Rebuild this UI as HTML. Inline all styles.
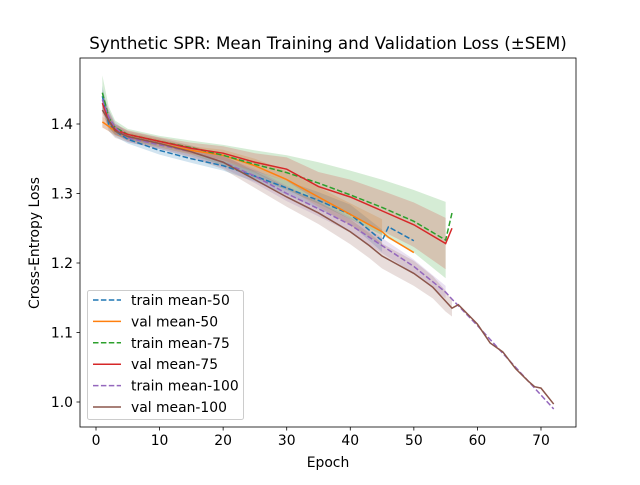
<!DOCTYPE html>
<html><head><meta charset="utf-8"><style>
body{margin:0;background:#fff}
svg{font-family:"DejaVu Sans","Liberation Sans",sans-serif}
</style></head><body>
<svg id="c" width="640" height="480"></svg>
<script>
const epochsTrain50=[1,2,3,5,10,15,20,25,30,35,40,45,46,50];
const valuesTrain50=[1.44,1.40,1.39,1.378,1.362,1.35,1.34,1.325,1.308,1.29,1.27,1.232,1.252,1.232];
const semTrain50=[0.015,0.01,0.008,0.006,0.006,0.006,0.007,0.008,0.01,0.012,0.014,0.016,0.0,0.0];
const epochsVal50=[1,3,5,10,15,20,25,30,35,40,45,46,50];
const valuesVal50=[1.403,1.39,1.382,1.372,1.362,1.355,1.34,1.32,1.295,1.27,1.245,1.237,1.215];
const semVal50=[0.008,0.006,0.006,0.006,0.006,0.008,0.01,0.012,0.014,0.016,0.018,0,0];
const epochsTrain75=[1,2,3,5,10,15,20,25,30,35,40,45,50,55,56];
const valuesTrain75=[1.445,1.41,1.395,1.385,1.375,1.366,1.355,1.342,1.33,1.315,1.298,1.28,1.26,1.233,1.272];
const semTrain75=[0.025,0.015,0.01,0.008,0.008,0.01,0.015,0.02,0.025,0.03,0.035,0.04,0.045,0.055,0.0];
const epochsVal75=[1,2,3,5,10,15,20,25,30,35,40,45,50,55,56];
const valuesVal75=[1.43,1.405,1.392,1.385,1.375,1.365,1.358,1.345,1.335,1.31,1.295,1.275,1.255,1.228,1.25];
const semVal75=[0.015,0.01,0.008,0.006,0.006,0.008,0.01,0.013,0.017,0.021,0.025,0.029,0.032,0.037,0.0];
const epochsTrain100=[1,2,3,5,10,15,20,25,30,35,40,45,50,55,56,60,65,70,72];
const valuesTrain100=[1.435,1.41,1.395,1.38,1.37,1.36,1.345,1.325,1.30,1.278,1.255,1.225,1.195,1.158,1.148,1.11,1.06,1.01,0.99];
const semTrain100=[0.015,0.01,0.008,0.006,0.006,0.007,0.008,0.01,0.011,0.011,0.011,0.011,0.01,0.009,0,0,0,0,0];
const epochsVal100=[1,2,3,5,10,15,20,25,30,35,40,43,45,47,50,53,55,56,57,60,62,64,66,68,69,70,72];
const valuesVal100=[1.42,1.405,1.39,1.382,1.372,1.36,1.345,1.32,1.295,1.272,1.245,1.225,1.21,1.2,1.185,1.165,1.145,1.135,1.14,1.112,1.085,1.072,1.048,1.03,1.022,1.02,0.997];
const semVal100=[0.025,0.015,0.01,0.008,0.008,0.009,0.01,0.012,0.014,0.016,0.018,0.018,0.018,0.018,0.018,0.016,0.015,0.012,0,0,0,0,0,0,0,0,0];
const xTicks=[0,10,20,30,40,50,60,70];
const yTicks=[1.0,1.1,1.2,1.3,1.4];
const legendLabels=["train mean-50","val mean-50","train mean-75","val mean-75","train mean-100","val mean-100"];

const svg=document.getElementById('c');const NS='http://www.w3.org/2000/svg';
function mk(t,a,p){const e=document.createElementNS(NS,t);for(const k in a)e.setAttribute(k,a[k]);(p||svg).appendChild(e);return e;}
const X=e=>96+e*6.357, Y=v=>124+(1.4-v)*695;
const L=80,R=576,T=58,B=427;
const series=[
 {n:'train-50',e:epochsTrain50,v:valuesTrain50,s:semTrain50,c:'#1f77b4',d:true},
 {n:'val-50',e:epochsVal50,v:valuesVal50,s:semVal50,c:'#ff7f0e',d:false},
 {n:'train-75',e:epochsTrain75,v:valuesTrain75,s:semTrain75,c:'#2ca02c',d:true},
 {n:'val-75',e:epochsVal75,v:valuesVal75,s:semVal75,c:'#d62728',d:false},
 {n:'train-100',e:epochsTrain100,v:valuesTrain100,s:semTrain100,c:'#9467bd',d:true},
 {n:'val-100',e:epochsVal100,v:valuesVal100,s:semVal100,c:'#8c564b',d:false}];
const g=mk('g',{'clip-path':'url(#cp)'});
const cp=mk('clipPath',{id:'cp'});mk('rect',{x:L,y:T,width:R-L,height:B-T},cp);
series.forEach(S=>{
 let idx=[];S.e.forEach((e,i)=>{if(S.s[i]>0)idx.push(i);});
 if(idx.length>1){let up=idx.map(i=>X(S.e[i])+','+Y(S.v[i]+S.s[i]));let dn=idx.slice().reverse().map(i=>X(S.e[i])+','+Y(S.v[i]-S.s[i]));
  const b=mk('polygon',{points:up.concat(dn).join(' '),fill:S.c,'fill-opacity':0.2,stroke:'none'},g);
  
  }
});
series.forEach(S=>{
 const p=mk('polyline',{points:S.e.map((e,i)=>X(e)+','+Y(S.v[i])).join(' '),fill:'none',stroke:S.c,'stroke-width':1.5,'stroke-dasharray':S.d?'5.5,2.4':'none'},g);
 
 
});
const fr=mk('rect',{x:L,y:T,width:R-L,height:B-T,fill:'none',stroke:'#000','stroke-width':0.8});

xTicks.forEach(t=>{mk('line',{x1:X(t),x2:X(t),y1:B,y2:B+3.5,stroke:'#000','stroke-width':0.8});
 const tx=mk('text',{x:X(t),y:B+18,'font-size':13.9,'text-anchor':'middle'});tx.textContent=t;
 });
yTicks.forEach(t=>{mk('line',{x1:L-3.5,x2:L,y1:Y(t),y2:Y(t),stroke:'#000','stroke-width':0.8});
 const tx=mk('text',{x:L-7,y:Y(t)+5,'font-size':13.9,'text-anchor':'end'});tx.textContent=t.toFixed(1);
 });
let t=mk('text',{x:328,y:49,'font-size':16.7,'text-anchor':'middle'});t.textContent='Synthetic SPR: Mean Training and Validation Loss (±SEM)';

t=mk('text',{x:328,y:467,'font-size':13.9,'text-anchor':'middle'});t.textContent='Epoch';

t=mk('text',{x:39,y:243,'font-size':13.9,'text-anchor':'middle',transform:'rotate(-90 39 243)'});t.textContent='Cross-Entropy Loss';

const lg=mk('g',{});
mk('rect',{x:87.5,y:290.5,width:156,height:129,rx:2,fill:'#fff','fill-opacity':0.8,stroke:'#ccc'},lg);
series.forEach((S,i)=>{const y=300+i*21.4;
 const en=mk('g',{},lg);
 mk('line',{x1:93,x2:121,y1:y,y2:y,stroke:S.c,'stroke-width':1.5,'stroke-dasharray':S.d?'5.5,2.4':'none'},en);
 const tx=mk('text',{x:131,y:y+5,'font-size':13.9},en);tx.textContent=legendLabels[i];});
</script>
</body></html>
